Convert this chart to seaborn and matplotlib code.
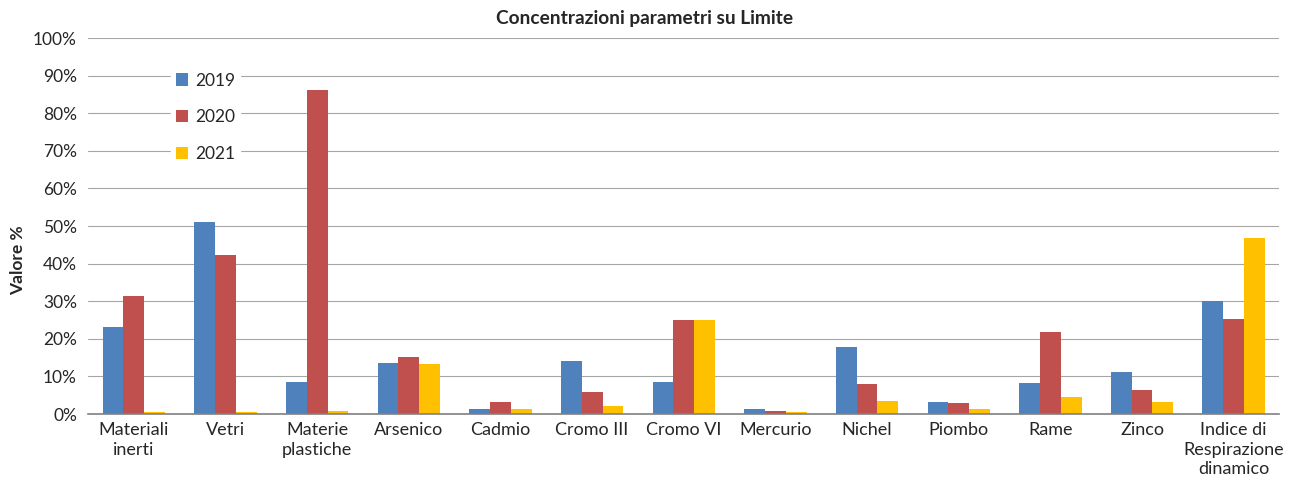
import pandas as pd
import matplotlib.pyplot as plt
import matplotlib.ticker as mtick
import seaborn as sns

# Data (percent)
parametri = ['Materiali\ninerti', 'Vetri', 'Materie\nplastiche', 'Arsenico', 'Cadmio',
             'Cromo III', 'Cromo VI', 'Mercurio', 'Nichel', 'Piombo', 'Rame', 'Zinco',
             'Indice di\nRespirazione\ndinamico']
v2019 = [23.1, 51.1, 8.5, 13.6, 1.3, 14.1, 8.5, 1.4, 17.8, 3.1, 8.2, 11.1, 30.0]
v2020 = [31.4, 42.3, 86.2, 15.2, 3.2, 5.9, 25.0, 0.8, 7.9, 2.9, 21.8, 6.3, 25.4]
v2021 = [0.4, 0.4, 0.8, 13.3, 1.4, 2.2, 25.1, 0.6, 3.5, 1.4, 4.5, 3.2, 46.8]
anni = ['2019', '2020', '2021']
colori = ['#4F81BD', '#C0504D', '#FFC000']

df = pd.DataFrame({'Parametro': parametri, '2019': v2019, '2020': v2020, '2021': v2021})
df = df.melt(id_vars='Parametro', var_name='Anno', value_name='Valore')

sns.set_style('white')
plt.rcParams['font.family'] = ['Lato', 'DejaVu Sans']

fig, ax = plt.subplots(figsize=(12.95, 4.97), dpi=100)
fig.subplots_adjust(left=0.068, right=0.988, top=0.9235, bottom=0.167)

sns.barplot(data=df, x='Parametro', y='Valore', hue='Anno', hue_order=anni,
            palette=colori, width=0.68, saturation=1, linewidth=0, ax=ax)

ax.set_ylim(0, 100)
ax.set_yticks(range(0, 101, 10))
ax.yaxis.set_major_formatter(mtick.PercentFormatter(decimals=0))
ax.grid(axis='y', color='#A6A6A6', linewidth=0.8)
ax.set_axisbelow(True)
for s in ['top', 'right', 'left']:
    ax.spines[s].set_visible(False)
ax.spines['bottom'].set_color('#808080')
ax.spines['bottom'].set_linewidth(1.2)
ax.tick_params(axis='y', length=0, labelsize=12.5, pad=8)
ax.tick_params(axis='x', length=0, labelsize=13, pad=6)
for t in ax.get_xticklabels():
    t.set_linespacing(1.25)
ax.set_xlabel('')
ax.set_ylabel('Valore %', fontsize=12.5, fontweight='bold')
ax.yaxis.set_label_coords(-0.052, 0.41)
ax.set_title('Concentrazioni parametri su Limite', fontsize=13.8,
             fontweight='bold', x=0.467, pad=10)

leg = ax.legend(loc='upper left', bbox_to_anchor=(0.062, 0.945), frameon=True,
                fontsize=12.5, handlelength=0.7, handleheight=0.7,
                labelspacing=1.2, borderpad=0.3, handletextpad=0.4)
leg.get_frame().set_edgecolor('white')
leg.get_frame().set_facecolor('white')
leg.get_frame().set_alpha(1)

plt.savefig('out.png', dpi=100)
